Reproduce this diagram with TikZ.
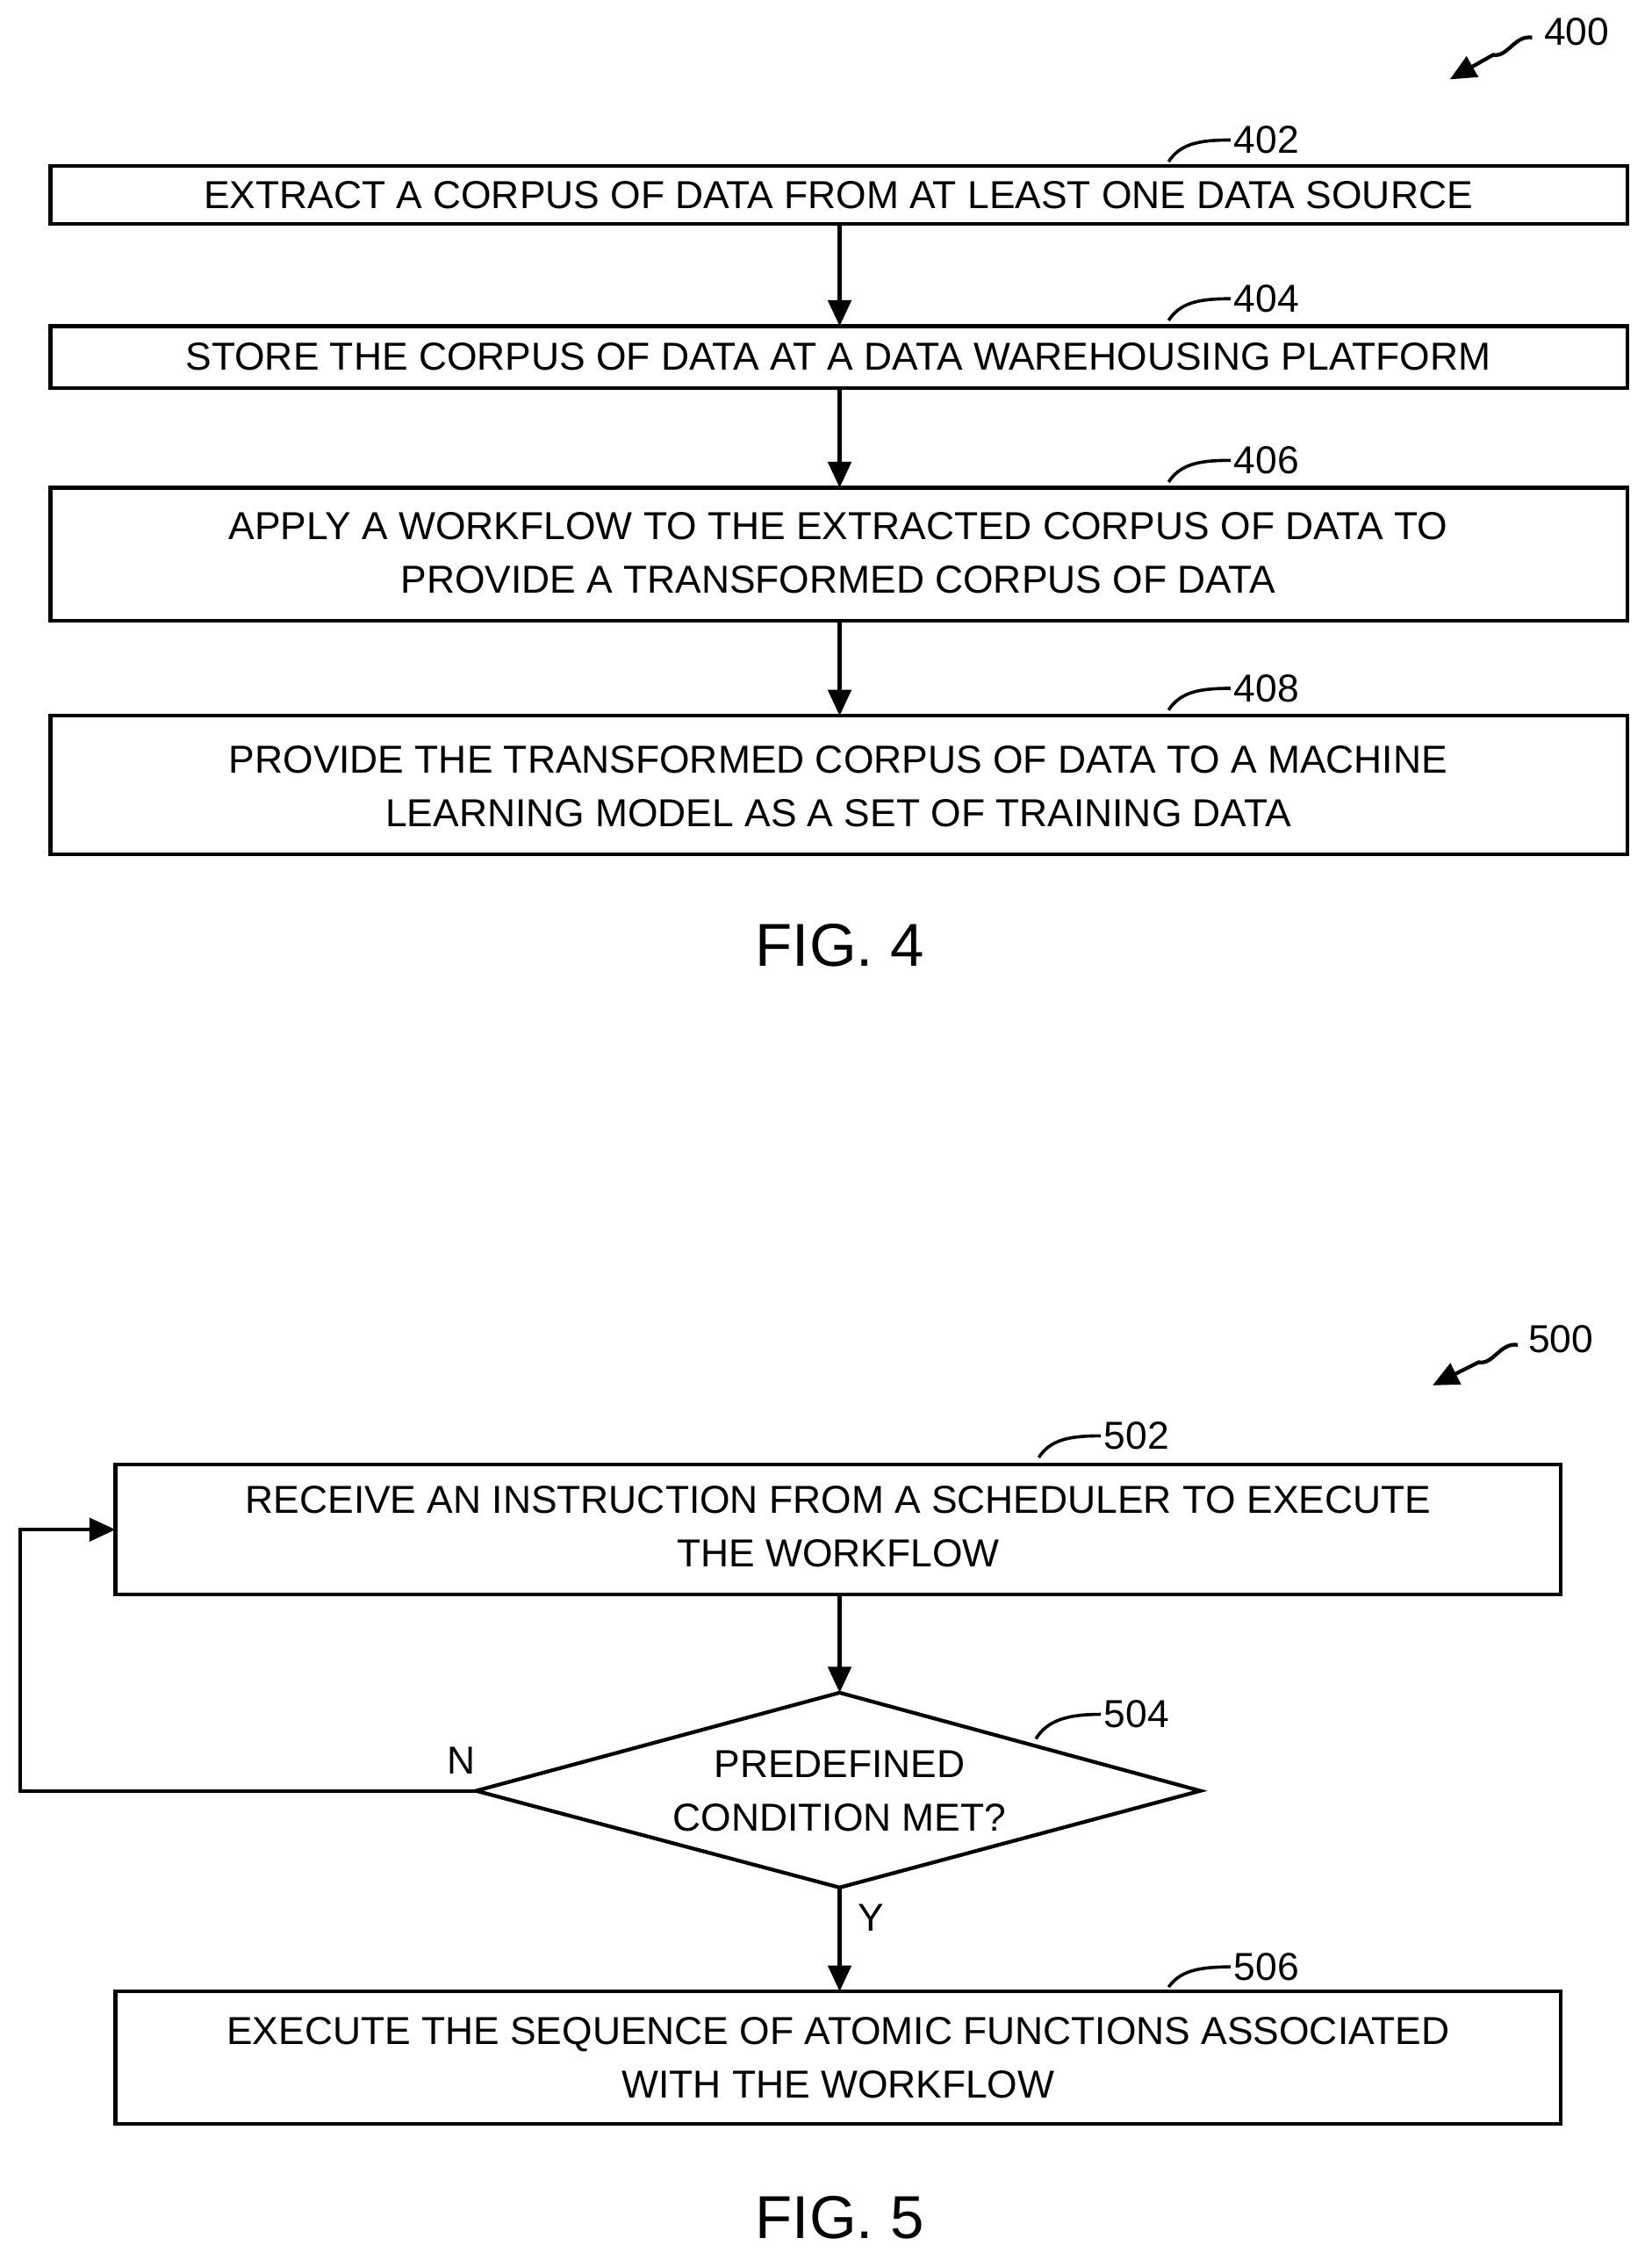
\documentclass[tikz,border=0pt]{standalone}
\usepackage{fontspec}
\setmainfont{Liberation Sans}
\usetikzlibrary{arrows.meta,shapes.geometric}
\begin{document}
\begin{tikzpicture}[x=0.5pt,y=-0.5pt,
  box/.style={draw,line width=1.3pt,inner sep=0pt},
  txt/.style={font=\fontsize{13.5}{18.5}\selectfont,align=center},
  arr/.style={line width=1.3pt,-{Triangle[length=9pt,width=8pt]}},
  lead/.style={line width=1.1pt},
  lbl/.style={font=\fontsize{13.5}{16}\selectfont,anchor=west,inner sep=1pt},
  fig/.style={font=\fontsize{21}{24}\selectfont}]
\useasboundingbox (0,0) rectangle (1145,1571);
% FIG 4
\node[lbl] (l400) at (1068,22) {400};
\coordinate (a400) at (1005,55);
\draw[arr] (1062,26) .. controls (1050,24) and (1045,40) .. (1035,38) -- (a400);
\draw[box] (35,115) rectangle (1128,155); \node[txt] (b402) at (581,135) {EXTRACT A CORPUS OF DATA FROM AT LEAST ONE DATA SOURCE};
\draw[box] (35,226) rectangle (1128,269); \node[txt] (b404) at (581,247) {STORE THE CORPUS OF DATA AT A DATA WAREHOUSING PLATFORM};
\draw[box] (35,338) rectangle (1128,430); \node[txt] (b406) at (581,383) {APPLY A WORKFLOW TO THE EXTRACTED CORPUS OF DATA TO\\PROVIDE A TRANSFORMED CORPUS OF DATA};
\draw[box] (35,496) rectangle (1128,592); \node[txt] (b408) at (581,545) {PROVIDE THE TRANSFORMED CORPUS OF DATA TO A MACHINE\\LEARNING MODEL AS A SET OF TRAINING DATA};
\draw[arr] (582,155) -- (582,226);
\draw[arr] (582,269) -- (582,338);
\draw[arr] (582,430) -- (582,496);
\node[lbl] (l402) at (853,97) {402}; \draw[lead] (810,112) .. controls (818,100) and (830,97) .. (l402.west);
\node[lbl] (l404) at (853,207) {404}; \draw[lead] (810,222) .. controls (818,210) and (830,207) .. (l404.west);
\node[lbl] (l406) at (853,319) {406}; \draw[lead] (810,334) .. controls (818,322) and (830,319) .. (l406.west);
\node[lbl] (l408) at (853,477) {408}; \draw[lead] (810,492) .. controls (818,480) and (830,477) .. (l408.west);
\node[fig] (f4) at (582,655) {FIG. 4};
% FIG 5
\node[lbl] (l500) at (1057,928) {500};
\draw[arr] (1052,932) .. controls (1040,930) and (1035,946) .. (1025,944) -- (993,960);
\draw[box] (80,1015) rectangle (1082,1105); \node[txt] (b502) at (581,1058) {RECEIVE AN INSTRUCTION FROM A SCHEDULER TO EXECUTE\\THE WORKFLOW};
\coordinate (dt) at (582,1173); \coordinate (db) at (582,1308);
\coordinate (dl) at (330,1241); \coordinate (dr) at (832,1241);
\draw[line width=1.3pt] (dt) -- (dr) -- (db) -- (dl) -- cycle;
\node[txt] (d504) at (582,1241) {PREDEFINED\\CONDITION MET?};
\draw[box] (80,1380) rectangle (1082,1472); \node[txt] (b506) at (581,1426) {EXECUTE THE SEQUENCE OF ATOMIC FUNCTIONS ASSOCIATED\\WITH THE WORKFLOW};
\draw[arr] (582,1105) -- (dt);
\draw[arr] (db) -- (582,1380);
\draw[arr] (dl) -- (14,1241) -- (14,1060) -- (80,1060);
\node[txt] (n) at (320,1220) {N};
\node[txt] (y) at (604,1329) {Y};
\node[lbl] (l502) at (763,995) {502}; \draw[lead] (720,1010) .. controls (728,998) and (740,995) .. (l502.west);
\node[lbl] (l504) at (763,1188) {504}; \draw[lead] (718,1205) .. controls (726,1192) and (740,1188) .. (l504.west);
\node[lbl] (l506) at (853,1363) {506}; \draw[lead] (810,1377) .. controls (818,1366) and (830,1363) .. (l506.west);
\node[fig] (f5) at (582,1537) {FIG. 5};
\end{tikzpicture}
\end{document}
